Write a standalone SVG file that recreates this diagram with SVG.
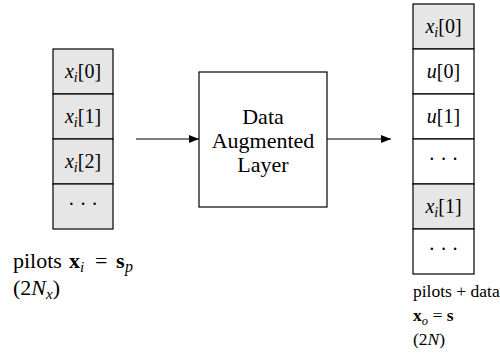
<svg xmlns="http://www.w3.org/2000/svg" width="500" height="362" viewBox="0 0 500 362" font-family="'Liberation Serif', 'DejaVu Serif', serif">
<defs>
<style>
.cell{stroke:#000;stroke-width:1.2}
.g{fill:#e6e6e6}
.w{fill:#fff}
text{font-family:'Liberation Serif','DejaVu Serif',serif;fill:#000}
.t{font-size:20px;text-anchor:middle}
.lbl{font-size:22px}
.lbr{font-size:17.5px}
.it{font-style:italic}
.b{font-weight:bold}
.conn{stroke:#000;stroke-width:1.2;fill:none}
</style>
<marker id="ah" viewBox="0 0 10 8" refX="10" refY="4" markerWidth="10" markerHeight="8" markerUnits="userSpaceOnUse" orient="auto">
<path d="M0,0 L10,4 L0,8 z" fill="#000"/>
</marker>
</defs>
<rect width="500" height="362" fill="#fff"/>

<g id="input-column">
<rect class="cell g" x="53" y="49" width="60" height="45"/>
<rect class="cell g" x="53" y="94" width="60" height="45"/>
<rect class="cell g" x="53" y="139" width="60" height="45"/>
<rect class="cell g" x="53" y="184" width="60" height="45"/>
<text class="t" x="83" y="78"><tspan class="it">x</tspan><tspan class="it" font-size="14" dy="4">i</tspan><tspan dy="-4">[0]</tspan></text>
<text class="t" x="83" y="123"><tspan class="it">x</tspan><tspan class="it" font-size="14" dy="4">i</tspan><tspan dy="-4">[1]</tspan></text>
<text class="t" x="83" y="168"><tspan class="it">x</tspan><tspan class="it" font-size="14" dy="4">i</tspan><tspan dy="-4">[2]</tspan></text>
<text class="t" x="83" y="211">· · ·</text>
</g>

<g id="input-label">
<text class="lbl" x="13" y="268">pilots <tspan class="b" x="69">x</tspan><tspan class="it" font-size="15" x="80" dy="4">i</tspan><tspan x="95" dy="-4">=</tspan><tspan class="b" x="116">s</tspan><tspan class="it" font-size="16" x="125" dy="4">p</tspan></text>
<text class="lbl" x="13" y="295">(2<tspan class="it">N</tspan><tspan class="it" font-size="15" dy="4">x</tspan><tspan dy="-4">)</tspan></text>
</g>

<g id="layer">
<rect x="199" y="72" width="128" height="135" fill="#fff" stroke="#000" stroke-width="1.2"/>
<text class="t" x="263" y="124" style="font-size:22px">Data</text>
<text class="t" x="263" y="148" style="font-size:22px">Augmented</text>
<text class="t" x="263" y="172" style="font-size:22px">Layer</text>
</g>

<g id="output-column">
<rect class="cell g" x="413" y="4" width="61" height="45"/>
<rect class="cell w" x="413" y="49" width="61" height="45"/>
<rect class="cell w" x="413" y="94" width="61" height="45"/>
<rect class="cell w" x="413" y="139" width="61" height="45"/>
<rect class="cell g" x="413" y="184" width="61" height="45"/>
<rect class="cell w" x="413" y="229" width="61" height="45"/>
<text class="t" x="443.5" y="33"><tspan class="it">x</tspan><tspan class="it" font-size="14" dy="4">i</tspan><tspan dy="-4">[0]</tspan></text>
<text class="t" x="443.5" y="78"><tspan class="it">u</tspan>[0]</text>
<text class="t" x="443.5" y="123"><tspan class="it">u</tspan>[1]</text>
<text class="t" x="443.5" y="166">· · ·</text>
<text class="t" x="443.5" y="213"><tspan class="it">x</tspan><tspan class="it" font-size="14" dy="4">i</tspan><tspan dy="-4">[1]</tspan></text>
<text class="t" x="443.5" y="256">· · ·</text>
</g>

<g id="output-label">
<text class="lbr" x="413" y="297">pilots + data</text>
<text class="lbr" x="413" y="321"><tspan class="b">x</tspan><tspan class="it" font-size="12.5" dy="4">o</tspan><tspan dy="-4"> = </tspan><tspan class="b">s</tspan></text>
<text class="lbr" x="413" y="345">(2<tspan class="it">N</tspan>)</text>
</g>

<g id="connectors">
<line class="conn" x1="136" y1="139" x2="199" y2="139" marker-end="url(#ah)"/>
<line class="conn" x1="327" y1="139" x2="391" y2="139" marker-end="url(#ah)"/>
</g>
</svg>
